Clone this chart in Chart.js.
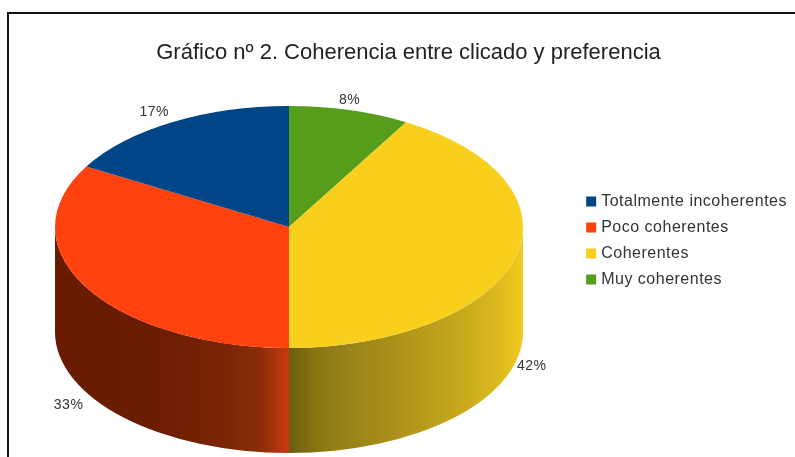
<!DOCTYPE html>
<html>
<head>
<meta charset="utf-8">
<title>Gráfico nº 2</title>
<script src="https://cdn.jsdelivr.net/npm/chart.js@4/dist/chart.umd.min.js"></script>
<style>
    html, body { margin: 0; background: #fff; overflow: hidden; }
    #wrap { position: relative; width: 795px; height: 457px; }
    #frame { position: absolute; left: 7px; top: 12px; right: 0; bottom: 0; border-top: 2px solid #111; border-left: 2px solid #111; }
    canvas { position: absolute; left: 0; top: 0; filter: blur(0.35px); }
</style>
</head>
<body>
<div id="wrap">
    <div id="frame"></div>
    <canvas id="chart"></canvas>
</div>
<script>
// data, clockwise from the top of the pie (12 answers in total)
const categories = ['Muy coherentes', 'Coherentes', 'Poco coherentes', 'Totalmente incoherentes'];
const values = [1, 5, 4, 2];
const colors = ['#579d1c', '#f9cf1e', '#ff420e', '#004586'];
// side wall shading, left to right across each slice
const wallShades = [
    ['#579d1c', '#579d1c'],
    ['#6a5c10', '#8c7713', '#98821a', '#a48b18', '#b0951a', '#bc9f1c', '#c9aa1d', '#d9b81e', '#f2c91f'],
    ['#6a1c02', '#6a1c02', '#6a1c02', '#6b1d02', '#6e1f03', '#742205', '#7c2607', '#8a2d08', '#c83a10'],
    ['#004586', '#004586']
];

// ellipse of the top face and height of the wall
const PIE = { x: 289, y: 227, rx: 234, ry: 121, depth: 105 };
const FONT = '"Liberation Sans", Arial, sans-serif';
// legend and percent text is set a little wider than the font
const SPACING = '0.5px';

// 3D look: walls under the arcs, arcs squashed into an ellipse
const pie3d = {
    id: 'pie3d',
    beforeLayout(chart) {
        chart.ctx.letterSpacing = SPACING;
    },
    afterLayout(chart) {
        chart.ctx.letterSpacing = '0px';
        // only the legend gets the wider text when drawn
        const legend = chart.legend;
        if (!legend._wide) {
            const draw = legend.draw;
            legend.draw = function() {
                chart.ctx.letterSpacing = SPACING;
                draw.call(legend);
                chart.ctx.letterSpacing = '0px';
            };
            legend._wide = true;
        }
    },
    beforeDatasetsDraw(chart) {
        const ctx = chart.ctx;
        const arcs = chart.getDatasetMeta(0).data;

        arcs.forEach((arc, i) => {
            const a0 = Math.max(arc.startAngle, 0);
            const a1 = Math.min(arc.endAngle, Math.PI);
            if (a1 <= a0) return;

            const xa = PIE.x + PIE.rx * Math.cos(a0);
            const xb = PIE.x + PIE.rx * Math.cos(a1);
            const grad = ctx.createLinearGradient(Math.min(xa, xb), 0, Math.max(xa, xb), 0);
            wallShades[i].forEach((c, k) => grad.addColorStop(k / (wallShades[i].length - 1), c));

            ctx.beginPath();
            ctx.ellipse(PIE.x, PIE.y, PIE.rx, PIE.ry, 0, a0, a1);
            ctx.ellipse(PIE.x, PIE.y + PIE.depth, PIE.rx, PIE.ry, 0, a1, a0, true);
            ctx.closePath();
            ctx.fillStyle = grad;
            ctx.fill();
        });

        const r = arcs[0].outerRadius;
        ctx.save();
        ctx.translate(PIE.x, PIE.y);
        ctx.scale(PIE.rx / r, PIE.ry / r);
        ctx.translate(-arcs[0].x, -arcs[0].y);
    },
    afterDatasetsDraw(chart) {
        const ctx = chart.ctx;
        ctx.restore();

        // percent labels, anchored on the rim of the slice
        const total = values.reduce((a, b) => a + b, 0);
        ctx.save();
        ctx.font = '14px ' + FONT;
        ctx.letterSpacing = SPACING;
        ctx.fillStyle = '#333';
        ctx.textBaseline = 'middle';
        chart.getDatasetMeta(0).data.forEach((arc, i) => {
            const mid = (arc.startAngle + arc.endAngle) / 2;
            const c = Math.cos(mid), s = Math.sin(mid);
            let x = PIE.x + PIE.rx * c;
            let y = PIE.y + PIE.ry * s + (s > 0 ? PIE.depth : 0);
            ctx.textAlign = c > 0.4 ? 'left' : c < -0.4 ? 'right' : 'center';
            x += c > 0.4 ? 2 : c < -0.4 ? -3 : 0;
            y += s > 0.4 ? 13 : s < -0.4 ? -10 : 3;
            ctx.fillText(Math.round(values[i] / total * 100) + '%', x, y);
        });
        ctx.restore();
    }
};

new Chart(document.getElementById('chart'), {
    type: 'pie',
    data: {
        labels: categories,
        datasets: [{
            data: values,
            backgroundColor: colors,
            borderWidth: 0,
            clip: false
        }]
    },
    options: {
        responsive: true,
        maintainAspectRatio: false,
        animation: false,
        events: [],
        layout: { padding: { left: 20, right: -2, top: 24, bottom: 0 } },
        plugins: {
            title: {
                display: true,
                text: 'Gráfico nº 2. Coherencia entre clicado y preferencia',
                color: '#222',
                font: { family: FONT, size: 22, weight: 'normal' },
                padding: { top: 16, bottom: 20 }
            },
            legend: {
                position: 'right',
                reverse: true,
                labels: {
                    usePointStyle: true,
                    pointStyle: 'rect',
                    boxWidth: 4,
                    boxHeight: 10,
                    padding: 10,
                    color: '#333',
                    font: { family: FONT, size: 16 }
                }
            },
            tooltip: { enabled: false }
        }
    },
    plugins: [pie3d]
});
</script>
</body>
</html>
